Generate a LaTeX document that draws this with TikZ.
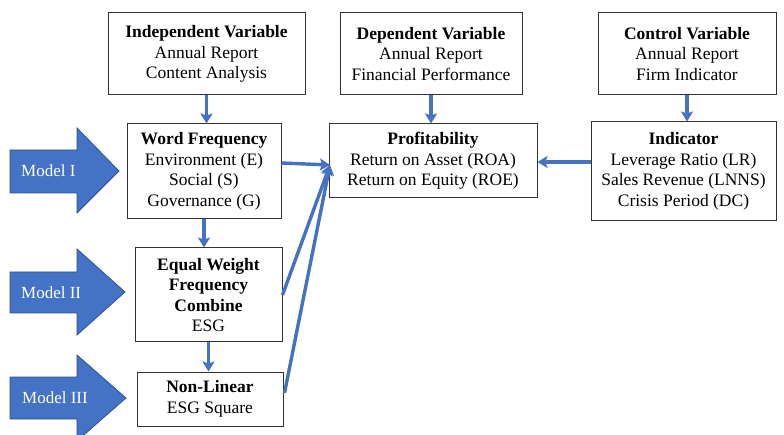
\documentclass[tikz,border=0pt]{standalone}
\usepackage{fontspec}
\setmainfont{Liberation Serif}
\usetikzlibrary{arrows.meta,calc}
\definecolor{obl}{HTML}{4472C4}
\definecolor{obd}{HTML}{2F528F}
\tikzset{
  box/.style={draw=black!80, line width=1pt, fill=white, align=center, inner sep=2pt,
    font=\fontsize{17.5}{20.5}\selectfont},
  conn/.style={draw=obl, line width=3.4pt, -{Stealth[length=10pt,width=12pt,inset=2pt]}},
  bigarrow/.style={fill=obl, draw=obd, line width=0.8pt},
  mlabel/.style={text=white, anchor=west, font=\fontsize{17}{20}\selectfont, inner sep=0pt}
}
\begin{document}
\begin{tikzpicture}[x=1pt,y=-1pt]
\useasboundingbox (0,0) rectangle (784,435);
% top boxes
\node[box, minimum width=197pt, minimum height=82pt] (ind) at (206.5,54) {\textbf{Independent Variable}\\Annual Report\\Content Analysis};
\node[box, minimum width=182pt, minimum height=82pt] (dep) at (431,54) {\textbf{Dependent Variable}\\Annual Report\\Financial Performance};
\node[box, minimum width=178pt, minimum height=82pt] (ctl) at (687,54) {\textbf{Control Variable}\\Annual Report\\Firm Indicator};
% middle boxes
\node[box, minimum width=154pt, minimum height=95pt] (wf) at (204,171.5) {\textbf{Word Frequency}\\Environment (E)\\Social (S)\\Governance (G)};
\node[box, minimum width=147pt, minimum height=94pt] (ew) at (208.5,295) {\textbf{Equal Weight}\\\textbf{Frequency}\\\textbf{Combine}\\ESG};
\node[box, minimum width=146pt, minimum height=54pt] (nl) at (210,399) {\textbf{Non-Linear}\\ESG Square};
\node[box, minimum width=208pt, minimum height=74pt] (prof) at (433,161) {\textbf{Profitability}\\Return on Asset (ROA)\\Return on Equity (ROE)};
\node[box, minimum width=185pt, minimum height=99pt] (indic) at (683.5,171.5) {\textbf{Indicator}\\Leverage Ratio (LR)\\Sales Revenue (LNNS)\\Crisis Period (DC)};
% big model arrows
\begin{scope}
\clip (0,0) rectangle (784,435);
\draw[bigarrow] (10,150) -- (77,150) -- (77,128) -- (119,171) -- (77,213) -- (77,193) -- (10,193) -- cycle;
\draw[bigarrow] (10,272) -- (77,272) -- (77,249) -- (125,292) -- (77,335) -- (77,313) -- (10,313) -- cycle;
\draw[bigarrow] (10,377) -- (77,377) -- (77,355) -- (126,398) -- (77,441) -- (77,419) -- (10,419) -- cycle;
\end{scope}
\node[mlabel] (m1) at (21,171) {Model I};
\node[mlabel] (m2) at (21,293) {Model II};
\node[mlabel] (m3) at (22,398) {Model III};
% connectors
\coordinate (conv) at (330,165);
\draw[conn] (ind.south) -- (ind.south |- wf.north);
\draw[conn] (dep.south) -- (dep.south |- prof.north);
\draw[conn] (ctl.south) -- (ctl.south |- indic.north);
\draw[conn] (wf.south) -- (wf.south |- ew.north);
\draw[conn] (ew.south) -- (ew.south |- nl.north);
\draw[conn] (wf.east |- 0,163) -- (conv);
\draw[conn] (ew.east) -- (conv);
\draw[conn] ($(nl.east)+(1,-6)$) -- (conv);
\draw[conn] (indic.west |- 0,162) -- (prof.east |- 0,162);
\end{tikzpicture}
\end{document}
